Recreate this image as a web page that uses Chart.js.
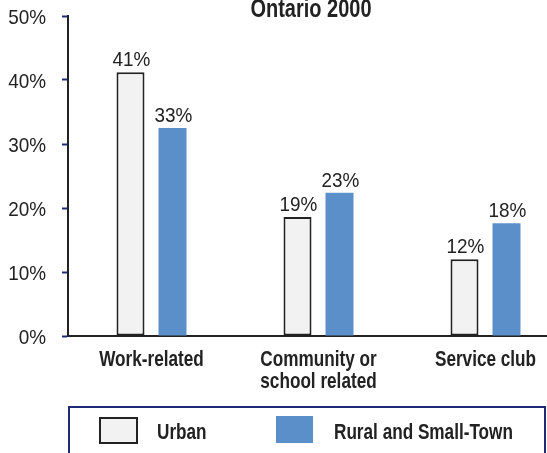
<!DOCTYPE html>
<html>
<head>
<meta charset="utf-8">
<title>Ontario 2000</title>
<script src="https://cdn.jsdelivr.net/npm/chart.js@4.4.0/dist/chart.umd.min.js"></script>
<style>
    html, body { margin: 0; padding: 0; background: #fff; overflow: hidden; }
    #chart-wrap { width: 580px; height: 453px; }
</style>
</head>
<body>
<div id="chart-wrap">
    <canvas id="ontario-chart" width="580" height="453"></canvas>
</div>
<script>
// data
const categories = [['Work-related'], ['Community or', 'school related'], ['Service club']];
const urbanValues = [41.2, 18.6, 12.0];
const ruralValues = [32.5, 22.4, 17.6];
const urbanLabels = ['41%', '19%', '12%'];
const ruralLabels = ['33%', '23%', '18%'];
const yTicks = [0, 10, 20, 30, 40, 50];
const seriesNames = ['Urban', 'Rural and Small-Town'];
const chartTitle = 'Ontario 2000';

const colors = {
    text: '#222222',
    navy: '#1f2a78',
    urbanFill: '#f2f2f2',
    urbanEdge: '#222222',
    rural: '#5b8fc9'
};
// no narrow face installed, so Liberation Sans gets squeezed sideways when drawn
const fontFamily = '"Liberation Sans", Arial, sans-serif';
const numFont = { css: '21px ' + fontFamily, squeeze: 0.9 };
const boldFont = { css: 'bold 22px ' + fontFamily, squeeze: 0.78 };
const titleFont = { css: 'bold 25px ' + fontFamily, squeeze: 0.8 };

function drawSqueezed(ctx, text, x, y, font, align) {
    ctx.save();
    ctx.font = font.css;
    ctx.textAlign = align || 'left';
    ctx.textBaseline = 'alphabetic';
    ctx.translate(x, y);
    ctx.scale(font.squeeze, 1);
    ctx.fillText(text, 0, 0);
    ctx.restore();
}

// axis tick labels, placed from the chart's own scales
const axisTextPlugin = {
    id: 'axisText',
    afterDraw(chart) {
        const ctx = chart.ctx;
        const yScale = chart.scales.y;
        const xScale = chart.scales.x;
        ctx.save();
        ctx.fillStyle = colors.text;
        yScale.ticks.forEach(t => {
            const py = yScale.getPixelForValue(t.value);
            drawSqueezed(ctx, t.value + '%', yScale.right - 22, py + 7.5, numFont, 'right');
        });
        chart.data.labels.forEach((lines, i) => {
            const px = xScale.getPixelForValue(i);
            lines.forEach((line, k) => {
                drawSqueezed(ctx, line, px, xScale.top + 30 + k * 22, boldFont, 'center');
            });
        });
        ctx.restore();
    }
};

// value labels above each bar
const barLabelPlugin = {
    id: 'barLabels',
    afterDatasetsDraw(chart) {
        const ctx = chart.ctx;
        const labelSets = [urbanLabels, ruralLabels];
        ctx.save();
        ctx.fillStyle = colors.text;
        chart.data.datasets.forEach((ds, i) => {
            chart.getDatasetMeta(i).data.forEach((bar, j) => {
                drawSqueezed(ctx, labelSets[i][j], bar.x + 1, bar.y - 6, numFont, 'center');
            });
        });
        ctx.restore();
    }
};

// title text and the boxed legend under the chart
const frameTextPlugin = {
    id: 'frameText',
    afterDraw(chart) {
        const ctx = chart.ctx;
        const ds = chart.data.datasets;
        ctx.save();
        ctx.fillStyle = colors.text;
        drawSqueezed(ctx, chartTitle, 311, 17, titleFont, 'center');

        ctx.strokeStyle = colors.navy;
        ctx.lineWidth = 2;
        ctx.strokeRect(69, 407, 476, 60);

        // urban swatch
        ctx.fillStyle = ds[0].backgroundColor;
        ctx.fillRect(100, 418, 37, 25);
        ctx.strokeStyle = ds[0].borderColor;
        ctx.lineWidth = 2;
        ctx.strokeRect(100, 418, 37, 25);
        // rural swatch
        ctx.fillStyle = ds[1].backgroundColor;
        ctx.fillRect(276, 416, 37, 27);

        ctx.fillStyle = colors.text;
        drawSqueezed(ctx, ds[0].label, 157, 439, boldFont, 'left');
        drawSqueezed(ctx, ds[1].label, 334, 439, boldFont, 'left');
        ctx.restore();
    }
};

function buildChart() {
    const canvas = document.getElementById('ontario-chart');
    if (!canvas) {
        console.error('ontario-chart canvas not found');
        return;
    }
    new Chart(canvas.getContext('2d'), {
        type: 'bar',
        data: {
            labels: categories,
            datasets: [{
                label: seriesNames[0],
                data: urbanValues,
                backgroundColor: colors.urbanFill,
                borderColor: colors.urbanEdge,
                borderWidth: 2,
                borderSkipped: false
            }, {
                label: seriesNames[1],
                data: ruralValues,
                backgroundColor: colors.rural,
                borderWidth: 0
            }]
        },
        options: {
            responsive: false,
            devicePixelRatio: 1,
            animation: false,
            categoryPercentage: 0.503,
            barPercentage: 0.667,
            layout: { padding: { top: 16, right: 11, bottom: 0, left: 0 } },
            plugins: {
                legend: { display: false },
                title: { display: false },
                tooltip: { enabled: false }
            },
            scales: {
                x: {
                    grid: { display: false },
                    border: { display: true, color: colors.text, width: 2 },
                    ticks: { display: false },
                    afterFit(scale) { scale.height = 117; }
                },
                y: {
                    min: 0,
                    max: 50,
                    afterBuildTicks(scale) { scale.ticks = yTicks.map(v => ({ value: v })); },
                    grid: {
                        drawOnChartArea: false,
                        drawTicks: true,
                        tickLength: 6,
                        tickColor: colors.navy,
                        tickWidth: 2
                    },
                    border: { display: true, color: colors.text, width: 2 },
                    ticks: { display: false },
                    afterFit(scale) { scale.width = 68; }
                }
            }
        },
        plugins: [barLabelPlugin, axisTextPlugin, frameTextPlugin]
    });
}

buildChart();
</script>
</body>
</html>
